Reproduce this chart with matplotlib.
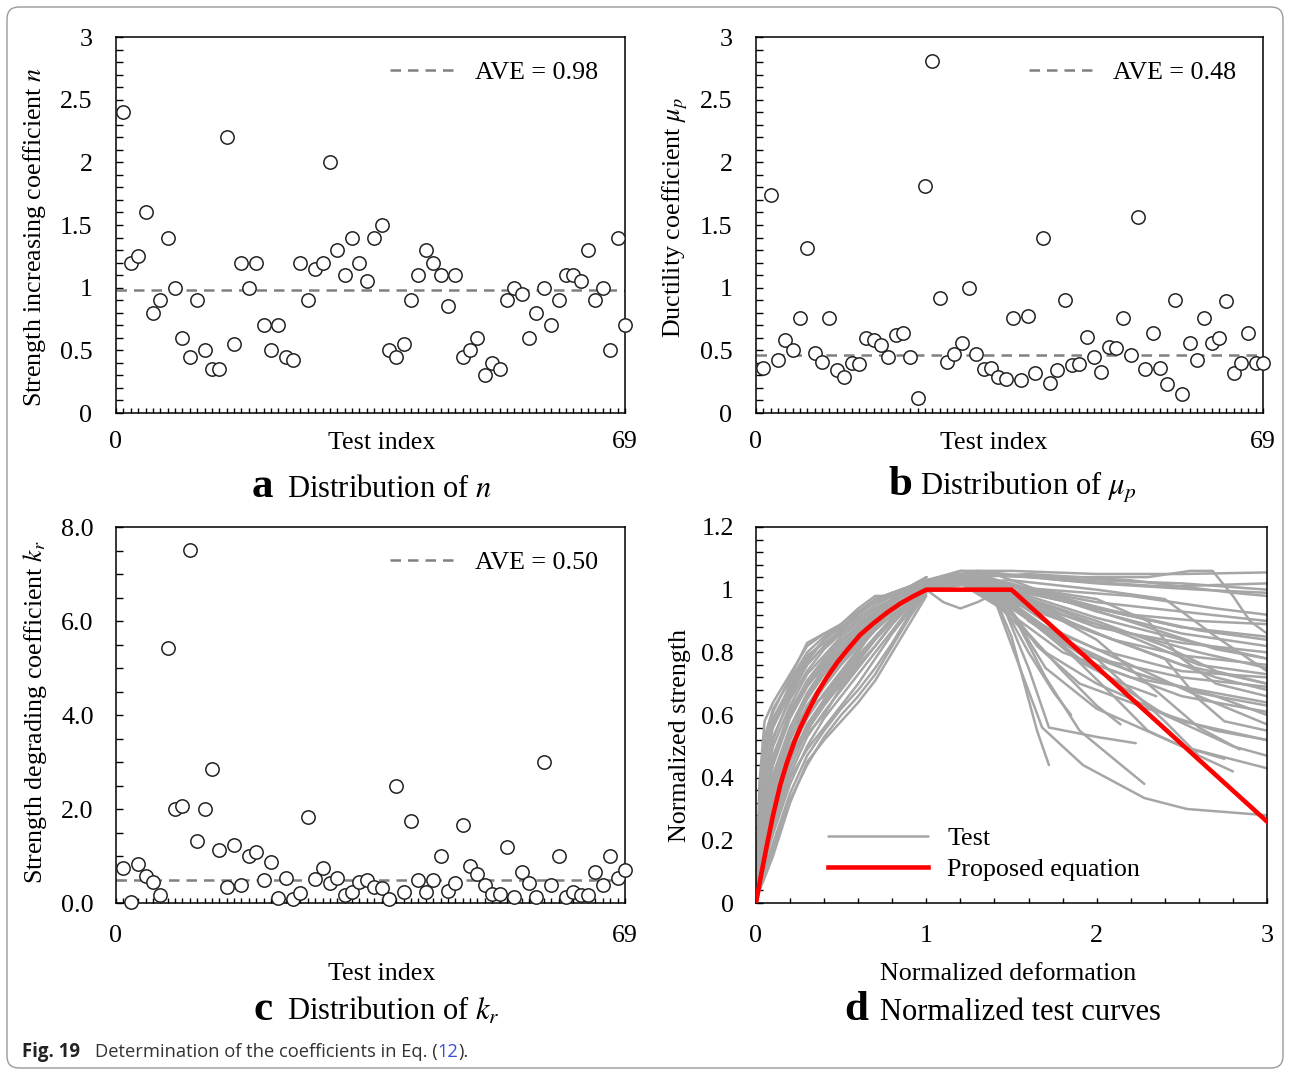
import matplotlib
matplotlib.use('Agg')
import matplotlib.pyplot as plt
from matplotlib.patches import FancyBboxPatch
from matplotlib.ticker import MultipleLocator, FixedLocator, FuncFormatter

plt.rcParams['font.family'] = ['Liberation Serif', 'DejaVu Serif']
plt.rcParams['mathtext.fontset'] = 'stix'
plt.rcParams['font.size'] = 18.7

# ---------------- data ----------------
test_index = list(range(1, 70))

n_values = [2.40, 1.20, 1.25, 1.60, 0.80, 0.90, 1.40, 1.00, 0.60, 0.45,
            0.90, 0.50, 0.35, 0.35, 2.20, 0.55, 1.20, 1.00, 1.20, 0.70,
            0.50, 0.70, 0.45, 0.42, 1.20, 0.90, 1.15, 1.20, 2.00, 1.30,
            1.10, 1.40, 1.20, 1.05, 1.40, 1.50, 0.50, 0.45, 0.55, 0.90,
            1.10, 1.30, 1.20, 1.10, 0.85, 1.10, 0.45, 0.50, 0.60, 0.30,
            0.40, 0.35, 0.90, 1.00, 0.95, 0.60, 0.80, 1.00, 0.70, 0.90,
            1.10, 1.10, 1.05, 1.30, 0.90, 1.00, 0.50, 1.40, 0.70]

mu_values = [0.36, 1.74, 0.42, 0.58, 0.50, 0.76, 1.32, 0.48, 0.41, 0.76,
             0.34, 0.29, 0.40, 0.39, 0.60, 0.58, 0.54, 0.45, 0.62, 0.64,
             0.45, 0.12, 1.81, 2.81, 0.92, 0.41, 0.47, 0.56, 1.00, 0.47,
             0.35, 0.36, 0.29, 0.27, 0.76, 0.26, 0.77, 0.32, 1.40, 0.24,
             0.34, 0.90, 0.38, 0.39, 0.61, 0.45, 0.33, 0.53, 0.52, 0.76,
             0.46, 1.56, 0.35, 0.64, 0.36, 0.23, 0.90, 0.15, 0.56, 0.42,
             0.76, 0.56, 0.60, 0.89, 0.32, 0.40, 0.64, 0.40, 0.40]

kr_values = [0.74, 0.03, 0.83, 0.57, 0.45, 0.18, 5.43, 1.99, 2.07, 7.52,
             1.32, 1.99, 2.85, 1.12, 0.33, 1.23, 0.39, 0.99, 1.09, 0.49,
             0.88, 0.11, 0.54, 0.08, 0.21, 1.82, 0.52, 0.74, 0.43, 0.54,
             0.18, 0.24, 0.45, 0.48, 0.35, 0.31, 0.08, 2.49, 0.23, 1.74,
             0.49, 0.24, 0.49, 0.99, 0.26, 0.43, 1.65, 0.79, 0.62, 0.38,
             0.19, 0.19, 1.19, 0.13, 0.66, 0.43, 0.13, 2.99, 0.39, 0.99,
             0.13, 0.24, 0.18, 0.18, 0.66, 0.38, 0.99, 0.53, 0.70]

ave_n, ave_mu, ave_kr = 0.98, 0.48, 0.50
ave_mu_drawn = 0.46

# normalized test curves: rising branches on a shared deformation grid
rise_x = [0, 0.02, 0.05, 0.1, 0.2, 0.3, 0.4, 0.5, 0.6, 0.7, 0.8, 0.9, 1.0]
rise_y = [
    [0, .38, .58, .64, .73, .82, .86, .89, .94, .98, .98, .99, 1.02],
    [0, .33, .53, .62, .71, .80, .85, .89, .93, .96, .98, 1.00, 1.04],
    [0, .29, .49, .59, .69, .78, .84, .88, .92, .96, .98, 1.00, 1.03],
    [0, .26, .45, .56, .67, .76, .82, .87, .91, .95, .98, 1.00, 1.02],
    [0, .23, .41, .53, .65, .74, .81, .86, .90, .94, .97, .99, 1.04],
    [0, .21, .38, .50, .63, .73, .79, .85, .89, .93, .97, .99, 1.02],
    [0, .19, .35, .47, .61, .71, .78, .84, .88, .92, .96, .99, 1.03],
    [0, .17, .32, .44, .59, .69, .76, .82, .87, .91, .95, .98, 1.02],
    [0, .15, .29, .41, .56, .67, .75, .81, .86, .91, .94, .98, 1.03],
    [0, .14, .27, .39, .54, .65, .73, .79, .85, .90, .94, .97, 1.02],
    [0, .13, .25, .36, .52, .63, .71, .78, .84, .89, .93, .97, 1.01],
    [0, .12, .23, .34, .50, .61, .69, .76, .82, .88, .93, .97, 1.02],
    [0, .11, .21, .32, .48, .59, .67, .74, .81, .87, .92, .96, 1.01],
    [0, .10, .19, .29, .45, .57, .65, .72, .79, .85, .91, .96, 1.02],
    [0, .09, .17, .27, .43, .55, .63, .70, .77, .84, .90, .95, 1.01],
    [0, .08, .15, .25, .41, .53, .61, .68, .75, .82, .89, .95, 1.00],
    [0, .07, .13, .22, .38, .50, .59, .66, .73, .80, .87, .94, 1.00],
    [0, .06, .11, .19, .35, .47, .55, .62, .68, .75, .83, .92, .99],
    [0, .04, .08, .15, .32, .45, .52, .58, .64, .71, .80, .89, .98],
    [0, .31, .50, .61, .72, .83, .86, .87, .92, .97, .99, 1.01, 1.04],
    [0, .24, .44, .57, .70, .79, .83, .87, .93, .97, .99, 1.00, 1.03],
    [0, .16, .31, .45, .62, .70, .75, .80, .86, .92, .96, .99, 1.02],
    [0, .12, .24, .37, .55, .62, .66, .73, .80, .88, .94, .98, 1.03],
    [0, .09, .18, .30, .47, .54, .60, .69, .76, .82, .89, .95, 1.01],
    [0, .05, .10, .17, .33, .44, .53, .60, .66, .73, .82, .91, .99],
    [0, .07, .14, .24, .40, .49, .56, .63, .70, .78, .86, .93, 1.00],
    [0, .10, .20, .31, .47, .56, .64, .71, .78, .85, .91, .96, 1.01],
    [0, .14, .28, .40, .56, .66, .74, .80, .86, .91, .95, .98, 1.02],
    [0, .18, .34, .46, .60, .70, .77, .83, .88, .93, .97, .99, 1.03],
    [0, .22, .40, .52, .66, .76, .82, .86, .90, .94, .97, 1.00, 1.04],
    [0, .27, .47, .58, .68, .77, .84, .89, .93, .96, .99, 1.01, 1.03],
    [0, .13, .26, .38, .53, .61, .70, .77, .83, .89, .94, .97, 1.02],
]

# softening branches (deformation, strength) read after the peak
fall_curves = [
    [(1.0, 1.03), (1.2, 1.06), (1.5, 1.06), (2.0, 1.05), (2.5, 1.05), (3.0, 1.055)],
    [(1.0, 1.02), (1.3, 1.05), (1.8, 1.04), (2.3, 1.04), (2.55, 1.06), (2.68, 1.06), (2.8, 0.98), (2.9, 0.90), (3.0, 0.86)],
    [(1.0, 1.02), (1.2, 1.05), (1.6, 1.04), (2.0, 1.03), (2.5, 1.02), (3.0, 1.00)],
    [(1.0, 1.01), (1.3, 1.05), (1.6, 1.00), (2.0, 0.96), (2.5, 0.93), (3.0, 0.90)],
    [(1.0, 1.02), (1.2, 1.05), (1.4, 1.03), (1.8, 0.97), (2.2, 0.92), (2.6, 0.90), (3.0, 0.89)],
    [(1.0, 1.00), (1.2, 1.04), (1.5, 1.00), (2.0, 0.94), (2.5, 0.88), (3.0, 0.85)],
    [(1.0, 1.01), (1.25, 1.04), (1.5, 0.98), (2.0, 0.88), (2.5, 0.83), (3.0, 0.80)],
    [(1.0, 1.02), (1.2, 1.05), (1.4, 1.02), (1.8, 0.92), (2.2, 0.86), (2.6, 0.80), (3.0, 0.75)],
    [(1.0, 1.00), (1.2, 1.03), (1.5, 0.96), (2.0, 0.86), (2.5, 0.76), (3.0, 0.70)],
    [(1.0, 1.03), (1.2, 1.05), (1.5, 1.00), (1.9, 0.88), (2.3, 0.80), (2.7, 0.72), (3.0, 0.68)],
    [(1.0, 1.00), (1.2, 1.03), (1.4, 0.98), (1.8, 0.84), (2.2, 0.74), (2.6, 0.67), (3.0, 0.63)],
    [(1.0, 1.01), (1.25, 1.04), (1.5, 0.94), (2.0, 0.76), (2.5, 0.66), (3.0, 0.61)],
    [(1.0, 1.00), (1.2, 1.03), (1.4, 0.96), (1.7, 0.80), (2.0, 0.70), (2.5, 0.58), (3.0, 0.52)],
    [(1.0, 1.02), (1.2, 1.04), (1.5, 0.95), (1.9, 0.78), (2.4, 0.60), (2.8, 0.50), (3.0, 0.47)],
    [(1.0, 1.00), (1.2, 1.03), (1.45, 0.97), (1.7, 0.75), (2.0, 0.62), (2.5, 0.50), (3.0, 0.43)],
    [(1.0, 1.00), (1.2, 1.03), (1.4, 0.97), (1.55, 0.75), (1.68, 0.56), (1.92, 0.44), (2.28, 0.335), (2.53, 0.30), (3.0, 0.28)],
    [(1.0, 1.01), (1.25, 1.03), (1.4, 0.98), (1.5, 0.85), (1.6, 0.65), (1.65, 0.55), (1.72, 0.44)],
    [(1.0, 1.00), (1.2, 1.02), (1.45, 0.95), (1.6, 0.75), (1.72, 0.56), (2.0, 0.53), (2.23, 0.51)],
    [(1.0, 1.00), (1.25, 1.03), (1.5, 0.93), (1.7, 0.72), (1.9, 0.55), (2.1, 0.46), (2.28, 0.38)],
    [(1.0, 1.02), (1.2, 1.04), (1.5, 0.92), (1.8, 0.74), (2.0, 0.63), (2.14, 0.57)],
    [(1.0, 1.00), (1.2, 1.03), (1.45, 0.95), (1.6, 0.80), (1.75, 0.67), (1.85, 0.60)],
    [(1.0, 1.02), (1.25, 1.05), (1.5, 1.00), (2.0, 0.94), (2.5, 0.88)],
    [(1.0, 1.00), (1.2, 1.03), (1.5, 0.95), (2.0, 0.78), (2.4, 0.58), (2.6, 0.47), (2.8, 0.42)],
    [(1.0, 1.02), (1.3, 1.04), (1.6, 0.96), (2.0, 0.84), (2.3, 0.70), (2.6, 0.56), (2.84, 0.49)],
    [(1.0, 1.00), (1.3, 1.03), (2.0, 0.97), (2.3, 0.90), (2.5, 0.78), (2.7, 0.70), (3.0, 0.66)],
    [(1.0, 1.02), (1.5, 1.03), (2.0, 1.00), (2.4, 0.97), (2.7, 0.85), (3.0, 0.74)],
    [(1.0, 1.00), (1.2, 1.02), (1.5, 0.92), (1.8, 0.80), (2.2, 0.72), (2.6, 0.68), (3.0, 0.64)],
    [(1.0, 1.03), (1.5, 1.02), (2.0, 0.93), (2.5, 0.86), (3.0, 0.82)],
    [(1.0, 1.00), (1.2, 1.03), (1.4, 0.99), (1.7, 0.86), (1.9, 0.77), (2.15, 0.70), (2.35, 0.66)],
    [(1.0, 1.02), (1.2, 1.04), (1.45, 1.00), (1.6, 0.90), (1.9, 0.80), (2.3, 0.72), (2.7, 0.66), (3.0, 0.60)],
    [(1.0, 1.01), (1.25, 1.04), (1.5, 0.97), (2.0, 0.86), (2.4, 0.78), (2.6, 0.65), (2.75, 0.58), (3.0, 0.55)],
    [(1.0, 1.00), (1.3, 1.02), (1.7, 1.00), (2.2, 0.98), (2.7, 0.94), (3.0, 0.92)],
    [(1.0, 1.03), (1.6, 1.05), (2.2, 1.03), (2.8, 0.99), (3.0, 0.98)],
    [(1.0, 1.01), (1.2, 1.03), (1.45, 0.97), (1.65, 0.82), (1.9, 0.70), (2.3, 0.62), (2.7, 0.55), (3.0, 0.52)],
    [(1.0, 1.00), (1.2, 1.02), (1.5, 0.95), (1.8, 0.82), (2.1, 0.66), (2.3, 0.55), (2.5, 0.50), (2.75, 0.46)],
    [(1.0, 1.02), (1.25, 1.04), (1.5, 0.99), (2.0, 0.90), (2.4, 0.82), (2.7, 0.74), (3.0, 0.70)],
    [(1.0, 1.00), (1.4, 1.00), (1.7, 0.93), (2.1, 0.84), (2.5, 0.79), (3.0, 0.76)],
    [(1.0, 1.00), (1.1, 0.96), (1.2, 0.94), (1.3, 0.96), (1.45, 1.00), (1.8, 0.93), (2.2, 0.85), (2.6, 0.76), (3.0, 0.73)],
    [(1.0, 1.02), (1.3, 1.05), (1.6, 1.04), (2.0, 1.02), (2.6, 1.00), (3.0, 0.99)],
    [(1.0, 1.01), (1.2, 1.03), (1.5, 0.96), (1.75, 0.84), (2.0, 0.78), (2.5, 0.72), (3.0, 0.69)],
    [(1.0, 1.02), (1.2, 1.06), (1.4, 1.05), (1.7, 0.99), (2.1, 0.93), (2.6, 0.87), (3.0, 0.84)],
    [(1.0, 1.01), (1.3, 1.04), (1.6, 0.98), (2.0, 0.91), (2.5, 0.84), (3.0, 0.78)],
    [(1.0, 1.03), (1.3, 1.06), (1.8, 1.03), (2.4, 1.01), (3.0, 1.02)],
    [(1.0, 1.00), (1.2, 1.02), (1.45, 0.98), (1.7, 0.88), (2.0, 0.81), (2.5, 0.74), (3.0, 0.72)],
    [(1.0, 1.02), (1.25, 1.05), (1.5, 1.01), (1.9, 0.95), (2.3, 0.88), (2.7, 0.81), (3.0, 0.78)],
    [(1.0, 1.01), (1.2, 1.04), (1.5, 0.97), (1.8, 0.86), (2.2, 0.76), (2.6, 0.66), (3.0, 0.57)],
]

# proposed equation
prop_x = [0, 0.03, 0.066, 0.1, 0.144, 0.18, 0.222, 0.26, 0.30, 0.36, 0.418,
          0.48, 0.535, 0.61, 0.69, 0.77, 0.848, 0.92, 1.0, 1.5, 3.0]
prop_y = [0, 0.09, 0.19, 0.28, 0.38, 0.445, 0.51, 0.56, 0.605, 0.67, 0.722,
          0.77, 0.807, 0.855, 0.893, 0.927, 0.956, 0.978, 1.0, 1.0, 0.26]

# ---------------- layout ----------------
W, H = 1290, 1070
fig = plt.figure(figsize=(W / 100, H / 100), dpi=100)


def box(l, t, r, b):
    return [l / W, 1 - b / H, (r - l) / W, (b - t) / H]


def fy(y):
    return 1 - y / H


ax_a = fig.add_axes(box(116, 37, 625, 413))
ax_b = fig.add_axes(box(756, 37, 1263, 413))
ax_c = fig.add_axes(box(116, 527, 625, 903))
ax_d = fig.add_axes(box(756, 527, 1267, 903))

gfmt = FuncFormatter(lambda v, p: f'{v:g}')


def style(ax, ypad, xpad):
    for s in ax.spines.values():
        s.set_linewidth(1.1)
    ax.tick_params(which='both', direction='in', top=False, right=False, width=1.0)
    ax.tick_params(axis='x', which='both', length=3.3, pad=xpad)
    ax.tick_params(axis='y', which='both', length=5, pad=ypad)


def scatter_panel(ax, vals, ave_y, ave_label, ymax, ymajor, yminor, fmt, ypad, xpad):
    ax.plot(test_index, vals, 'o', mfc='white', mec='#222222', ms=9.6, mew=1.1,
            clip_on=False, zorder=3)
    ax.axhline(ave_y, color='#808080', lw=1.8, ls=(0, (4.2, 2.8)), label=ave_label, zorder=2)
    ax.set_xlim(0, 69)
    ax.set_ylim(0, ymax)
    ax.xaxis.set_major_locator(FixedLocator([0, 69]))
    ax.xaxis.set_minor_locator(MultipleLocator(1))
    ax.yaxis.set_major_locator(MultipleLocator(ymajor))
    ax.yaxis.set_minor_locator(MultipleLocator(yminor))
    ax.yaxis.set_major_formatter(fmt)
    style(ax, ypad, xpad)
    ax.legend(loc='upper right', bbox_to_anchor=(1 - 27 / 509, 1 - 24 / 376),
              frameon=False, borderpad=0, borderaxespad=0,
              handlelength=2.6, handletextpad=0.65)


scatter_panel(ax_a, n_values, ave_n, f'AVE = {ave_n:.2f}', 3, 0.5, 0.1, gfmt, 17, 13)
scatter_panel(ax_b, mu_values, ave_mu_drawn, f'AVE = {ave_mu:.2f}', 3, 0.5, 0.1, gfmt, 17, 13)
scatter_panel(ax_c, kr_values, ave_kr, f'AVE = {ave_kr:.2f}', 8, 2, 0.5,
              FuncFormatter(lambda v, p: f'{v:.1f}'), 16, 16)

# panel d
for ys in rise_y:
    ax_d.plot(rise_x, ys, color='#a6a6a6', lw=1.8, solid_capstyle='round', zorder=2)
for i, c in enumerate(fall_curves):
    xs, ys = zip(*c)
    ax_d.plot(xs, ys, color='#a6a6a6', lw=1.8, solid_capstyle='round', zorder=2,
              label='Test' if i == 0 else None)
ax_d.plot(prop_x, prop_y, color='#ff0000', lw=3.3, zorder=4, label='Proposed equation')
ax_d.set_xlim(0, 3)
ax_d.set_ylim(0, 1.2)
ax_d.xaxis.set_major_locator(MultipleLocator(1))
ax_d.xaxis.set_minor_locator(MultipleLocator(0.2))
ax_d.yaxis.set_major_locator(MultipleLocator(0.2))
ax_d.yaxis.set_minor_locator(MultipleLocator(0.04))
ax_d.xaxis.set_major_formatter(gfmt)
ax_d.yaxis.set_major_formatter(gfmt)
style(ax_d, 16, 16)
ax_d.legend(loc='lower left', bbox_to_anchor=((828 - 756) / 511, (903 - 881) / 376),
            frameon=False, borderpad=0, borderaxespad=0, handlelength=3.85,
            handletextpad=0.75, labelspacing=0.3)

# axis labels
fig.text(382 / W, fy(449), 'Test index', ha='center', va='baseline')
fig.text(994 / W, fy(449), 'Test index', ha='center', va='baseline')
fig.text(382 / W, fy(980), 'Test index', ha='center', va='baseline')
fig.text(1008 / W, fy(980), 'Normalized deformation', ha='center', va='baseline')

fig.text(35 / W, fy(237), 'Strength increasing coefficient $n$', rotation=90,
         ha='center', va='center')
fig.text(675 / W, fy(218), r'Ductility coefficient $\mu_p$', rotation=90,
         ha='center', va='center')
fig.text(35 / W, fy(712), 'Strength degrading coefficient $k_r$', rotation=90,
         ha='center', va='center')
fig.text(680 / W, fy(735), 'Normalized strength', rotation=90,
         ha='center', va='center')

# panel titles
titles = [('a', 273, 287, 497, 'Distribution of $n$'),
          ('b', 912, 920, 495, r'Distribution of $\mu_p$'),
          ('c', 273, 287, 1020, 'Distribution of $k_r$'),
          ('d', 868, 880, 1020, 'Normalized test curves')]
for letter, lx, tx, base, txt in titles:
    fig.text(lx / W, fy(base), letter, ha='right', va='baseline', fontsize=31,
             fontweight='bold')
    fig.text(tx / W, fy(base), txt, ha='left', va='baseline', fontsize=22)

# caption
cap_font = ['Open Sans', 'DejaVu Sans']
fig.canvas.draw()
r = fig.canvas.get_renderer()
t1 = fig.text(22 / W, fy(1057), 'Fig. 19', family=cap_font, fontweight='bold',
              fontsize=13.4, color='#222222', va='baseline')
t2 = fig.text(95 / W, fy(1057), 'Determination of the coefficients in Eq. (',
              family=cap_font, fontsize=13.2, color='#333333', va='baseline')
bb = t2.get_window_extent(r)
t3 = fig.text(bb.x1 / W, fy(1057), '12', family=cap_font, fontsize=13.2,
              color='#3a4fd6', va='baseline')
bb = t3.get_window_extent(r)
fig.text(bb.x1 / W, fy(1057), ').', family=cap_font, fontsize=13.2,
         color='#333333', va='baseline')

# rounded frame around the figure
frame = FancyBboxPatch((7, 2), W - 14, H - 9, boxstyle='round,pad=0,rounding_size=12',
                       transform=None, fill=False, ec='#9a9a9a', lw=1.0)
fig.patches.append(frame)

fig.savefig('out.png', dpi=100)
